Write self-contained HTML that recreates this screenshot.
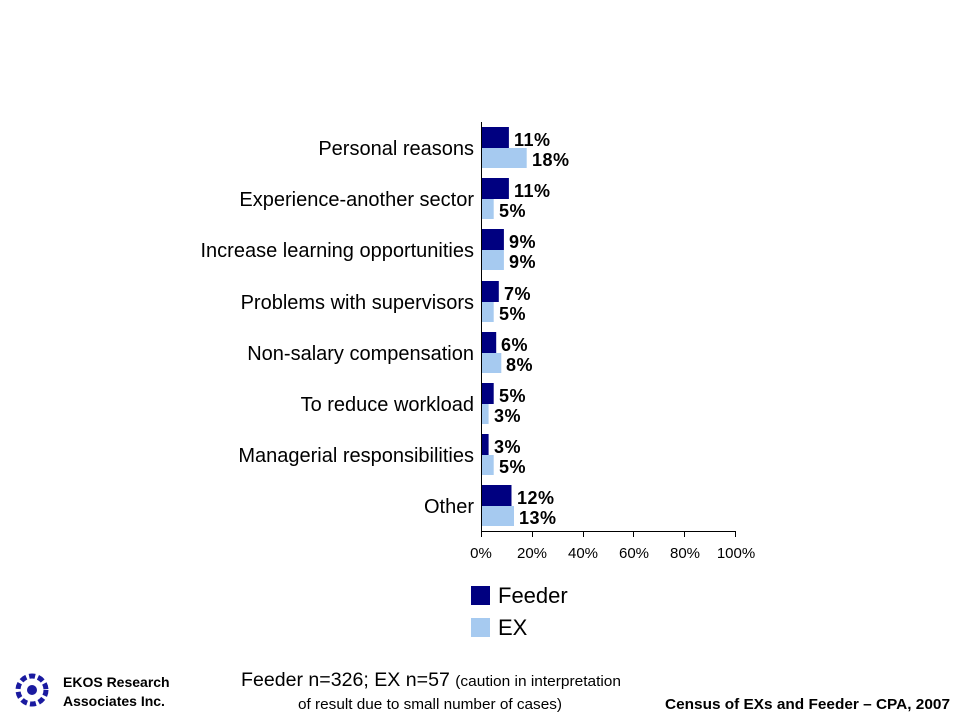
<!DOCTYPE html>
<html><head><meta charset="utf-8"><style>
body{margin:0;width:960px;height:720px;background:#fff;overflow:hidden;font-family:"Liberation Sans",Arial,sans-serif}
</style></head><body>
<svg width="960" height="720" xmlns="http://www.w3.org/2000/svg" font-family="Liberation Sans, Arial, sans-serif">
<g font-size="20" text-anchor="end">
<text x="474" y="155">Personal reasons</text>
<text x="474" y="206">Experience-another sector</text>
<text x="474" y="257">Increase learning opportunities</text>
<text x="474" y="309">Problems with supervisors</text>
<text x="474" y="360">Non-salary compensation</text>
<text x="474" y="411">To reduce workload</text>
<text x="474" y="462">Managerial responsibilities</text>
<text x="474" y="513">Other</text>
</g>
<g fill="#000080">
<rect x="481" y="127" width="27.9" height="21"/>
<rect x="481" y="178" width="27.9" height="21"/>
<rect x="481" y="229" width="22.9" height="21"/>
<rect x="481" y="281" width="17.8" height="21"/>
<rect x="481" y="332" width="15.2" height="21"/>
<rect x="481" y="383" width="12.7" height="21"/>
<rect x="481" y="434" width="7.6" height="21"/>
<rect x="481" y="485" width="30.5" height="21"/>
</g>
<g fill="#a6caf0">
<rect x="481" y="148" width="45.7" height="20"/>
<rect x="481" y="199" width="12.7" height="20"/>
<rect x="481" y="250" width="22.9" height="20"/>
<rect x="481" y="302" width="12.7" height="20"/>
<rect x="481" y="353" width="20.3" height="20"/>
<rect x="481" y="404" width="7.6" height="20"/>
<rect x="481" y="455" width="12.7" height="20"/>
<rect x="481" y="506" width="33" height="20"/>
</g>
<g font-size="18" font-weight="bold" letter-spacing="0.5">
<text x="514" y="146">11%</text><text x="532" y="166">18%</text>
<text x="514" y="197">11%</text><text x="499" y="217">5%</text>
<text x="509" y="248">9%</text><text x="509" y="268">9%</text>
<text x="504" y="300">7%</text><text x="499" y="320">5%</text>
<text x="501" y="351">6%</text><text x="506" y="371">8%</text>
<text x="499" y="402">5%</text><text x="494" y="422">3%</text>
<text x="494" y="453">3%</text><text x="499" y="473">5%</text>
<text x="517" y="504">12%</text><text x="519" y="524">13%</text>
</g>
<line x1="481.5" y1="122" x2="481.5" y2="537" stroke="#000"/>
<line x1="481" y1="531.5" x2="736" y2="531.5" stroke="#000"/>
<g stroke="#000">
<line x1="532.5" y1="532" x2="532.5" y2="537"/><line x1="583.5" y1="532" x2="583.5" y2="537"/>
<line x1="633.5" y1="532" x2="633.5" y2="537"/><line x1="684.5" y1="532" x2="684.5" y2="537"/>
<line x1="735.5" y1="532" x2="735.5" y2="537"/></g>
<g font-size="15" fill="#000" text-anchor="middle">
<text x="481" y="558">0%</text><text x="532" y="558">20%</text><text x="583" y="558">40%</text>
<text x="634" y="558">60%</text><text x="685" y="558">80%</text><text x="736" y="558">100%</text></g>
<rect x="471" y="586" width="19" height="19" fill="#000080"/>
<rect x="471" y="618" width="19" height="19" fill="#a6caf0"/>
<text x="498" y="603" font-size="22">Feeder</text>
<text x="498" y="635" font-size="22">EX</text>
<g fill="#1a1aa0"><circle cx="32" cy="690" r="14" fill="none" stroke="#1a1aa0" stroke-width="5" stroke-dasharray="6 3"/><circle cx="32" cy="690" r="5"/></g>
<text x="63" y="687" font-size="14" font-weight="bold">EKOS Research</text>
<text x="63" y="706" font-size="14" font-weight="bold">Associates Inc.</text>
<text x="241" y="686" font-size="19" textLength="380" lengthAdjust="spacingAndGlyphs">Feeder n=326; EX n=57 <tspan font-size="15">(caution in interpretation</tspan></text>
<text x="298" y="709" font-size="15" textLength="264" lengthAdjust="spacingAndGlyphs">of result due to small number of cases)</text>
<text x="665" y="709" font-size="15" font-weight="bold" textLength="285" lengthAdjust="spacingAndGlyphs">Census of EXs and Feeder – CPA, 2007</text>
</svg>
</body></html>
